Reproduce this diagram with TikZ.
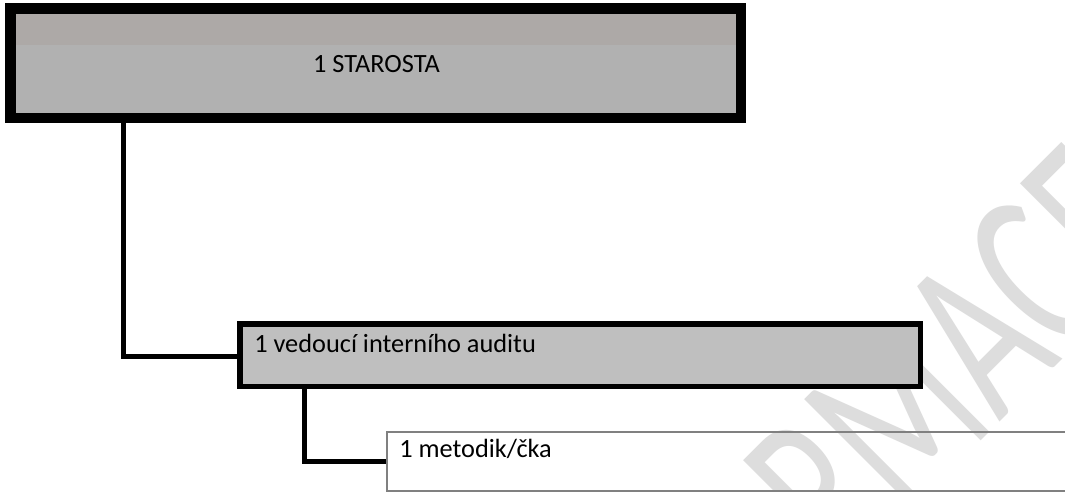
\documentclass[tikz,border=0pt]{standalone}
\usepackage{fontspec}
\setmainfont{Carlito}
\definecolor{bandc}{HTML}{ADA9A7}
\definecolor{fillA}{HTML}{B1B1B1}
\definecolor{fillB}{HTML}{BFBFBF}
\definecolor{wmc}{HTML}{DDDDDD}
\definecolor{thinc}{HTML}{808080}
\begin{document}
\begin{tikzpicture}[x=0.75pt,y=-0.75pt,
  topbox/.style={draw=black, line width=10.5*0.75pt, fill=fillA, inner sep=0pt,
    minimum width=730.5*0.75pt, minimum height=109.5*0.75pt,
    path picture={\fill[bandc] (path picture bounding box.north west) rectangle
      ([yshift=-37*0.75pt]path picture bounding box.north east);}},
  midbox/.style={draw=black, line width=5.5*0.75pt, fill=fillB, inner sep=0pt,
    minimum width=680.5*0.75pt, minimum height=62.5*0.75pt},
  lowbox/.style={draw=thinc, line width=2*0.75pt, inner sep=0pt,
    minimum width=688*0.75pt, minimum height=58.5*0.75pt},
  conn/.style={draw=black, line width=5*0.75pt},
  lbl/.style={inner sep=0pt, font=\fontsize{19.75}{23}\selectfont},
  wmark/.style={inner sep=0pt, text=wmc, font=\fontsize{180}{180}\selectfont}
]
\useasboundingbox (0,0) rectangle (1065,492);
\clip (0,0) rectangle (1065,492);
\fill[white] (0,0) rectangle (1065,492);
% watermark
\coordinate (wa) at (999,423);
\begin{scope}[shift={(wa)}, rotate=45, xscale=0.65, transform shape]
  \node[wmark, anchor=base east] (wm1) at (0,0) {INFORM};
  \node[wmark, anchor=base west] (wm2) at (0,0) {ACE};
\end{scope}
% boxes
\node[topbox] (starosta) at (375.75,63.25) {};
\node[midbox] (vedouci) at (580,355) {};
\node[lowbox] (metodik) at (731,461.25) {};
% connectors
\coordinate (c1) at (123.5,356.5);
\coordinate (c2) at (304.5,461.5);
\draw[conn] (starosta.south -| c1) -- (c1) -- (c1 -| vedouci.west);
\draw[conn] (vedouci.south -| c2) -- (c2) -- (c2 -| metodik.west);
% texts
\node[lbl, anchor=base] (t1) at (376.5,72.3) {1 STAROSTA};
\node[lbl, anchor=base west] (t2) at (254,352) {1 vedoucí interního auditu};
\node[lbl, anchor=base west] (t3) at (399,457) {1 metodik/čka};
\end{tikzpicture}
\end{document}
